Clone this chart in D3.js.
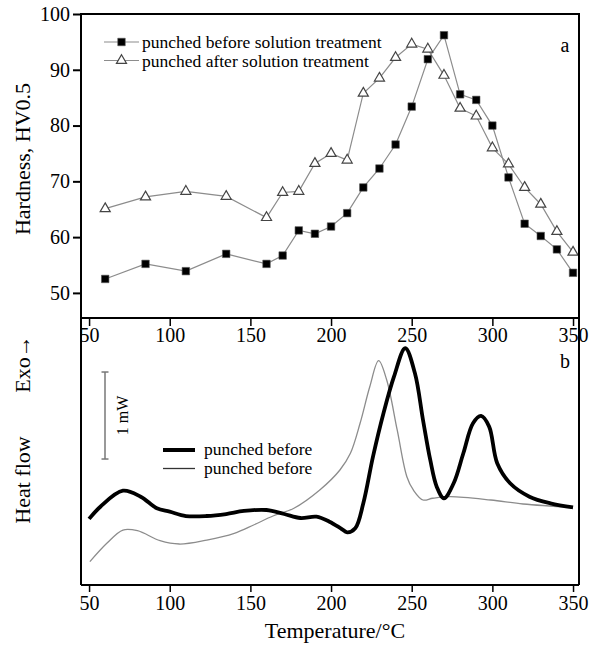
<!DOCTYPE html>
<html>
<head>
<meta charset="utf-8">
<script src="https://cdn.jsdelivr.net/npm/d3@7"></script>
<style>
body { margin: 0; background: #fff; }
svg text { font-family: "Liberation Serif", "Times New Roman", serif; fill: #000; }
</style>
</head>
<body>
<div id="chart"></div>
<script>
// panel a: hardness
var tempA = [60, 85, 110, 135, 160, 170, 180, 190, 200, 210, 220, 230, 240, 250, 260, 270, 280, 290, 300, 310, 320, 330, 340, 350];
var hvBefore = [52.5, 55.2, 53.9, 57.0, 55.2, 56.7, 61.2, 60.6, 61.9, 64.3, 68.9, 72.3, 76.6, 83.4, 91.9, 96.2, 85.6, 84.6, 80.0, 70.7, 62.4, 60.2, 57.8, 53.6];
var hvAfter = [65.1, 67.2, 68.2, 67.3, 63.5, 68.0, 68.2, 73.2, 75.0, 73.8, 85.8, 88.5, 92.2, 94.6, 93.7, 89.0, 83.1, 81.7, 76.0, 73.1, 68.9, 65.9, 61.0, 57.3];
var hvTicks = [50, 60, 70, 80, 90, 100];
var tempTicks = [50, 100, 150, 200, 250, 300, 350];
var legendA = ["punched before solution treatment", "punched after solution treatment"];

// panel b: DSC heat flow (mW, arbitrary offset)
var tempThick = [50, 57, 71, 82, 92, 100, 110, 123, 135, 146, 160, 171, 181, 191, 199, 206, 210, 215, 220, 226, 232.5, 239, 246, 252, 257, 261.5, 265.5, 270, 276, 282, 288, 293, 298, 303, 311, 323, 336, 350];
var flowThick = [0.76, 0.90, 1.084, 1.015, 0.882, 0.843, 0.793, 0.793, 0.816, 0.851, 0.862, 0.816, 0.770, 0.785, 0.728, 0.652, 0.606, 0.652, 0.939, 1.475, 1.974, 2.394, 2.721, 2.433, 1.897, 1.437, 1.130, 0.997, 1.169, 1.514, 1.859, 1.943, 1.820, 1.399, 1.169, 1.015, 0.939, 0.893];
var tempThin = [50.5, 61, 71, 80, 94, 106, 123, 140, 152, 164, 177, 193, 205.5, 212, 218, 224, 229.5, 234.5, 241, 247, 251, 257, 263, 274, 299, 319, 350];
var flowThin = [0.268, 0.479, 0.632, 0.624, 0.509, 0.471, 0.517, 0.594, 0.690, 0.793, 0.882, 1.092, 1.322, 1.514, 1.859, 2.279, 2.578, 2.356, 1.782, 1.245, 1.092, 0.977, 0.997, 1.015, 0.977, 0.931, 0.893];
var legendB = ["punched before", "punched before"];

var W = 590, H = 645;
var left = 81, right = 579;
var topA = 14, botA = 318, botB = 585;
var serif = "Liberation Serif, Times New Roman, serif";

var svg = d3.select("#chart").append("svg")
	.attr("width", W)
	.attr("height", H);

var x = d3.scaleLinear().domain([45, 353.7]).range([left, right]);
var yA = d3.scaleLinear().domain([45.5, 100]).range([botA, topA]);
var yB = d3.scaleLinear().domain([0, (botB - botA) / 87]).range([botB, botA]);

function styleAxis(g, w) {
	g.attr("font-family", serif).attr("font-size", 20);
	g.select(".domain").remove();
	g.selectAll("line").attr("stroke", "#000").attr("stroke-width", w);
	g.selectAll("text").attr("fill", "#000").style("font-family", serif).style("font-size", "20px");
}

// ---- panel a ----
var gA = svg.append("g");

gA.append("g")
	.attr("transform", "translate(" + left + ",0)")
	.call(d3.axisLeft(yA).tickValues(hvTicks).tickSize(8).tickPadding(3))
	.call(styleAxis, 2);

gA.append("g")
	.attr("transform", "translate(0," + botA + ")")
	.call(d3.axisBottom(x).tickValues(tempTicks).tickSize(8).tickPadding(2))
	.call(styleAxis, 1.5);

var lineA = d3.line()
	.x(function(d) { return x(d[0]); })
	.y(function(d) { return yA(d[1]); });

var dBefore = tempA.map(function(t, i) { return [t, hvBefore[i]]; });
var dAfter = tempA.map(function(t, i) { return [t, hvAfter[i]]; });

gA.append("path").datum(dAfter)
	.attr("fill", "none").attr("stroke", "#8c8c8c").attr("stroke-width", 1.2)
	.attr("d", lineA);
gA.append("path").datum(dBefore)
	.attr("fill", "none").attr("stroke", "#8c8c8c").attr("stroke-width", 1.2)
	.attr("d", lineA);

var tri = d3.symbol().type(d3.symbolTriangle).size(44);
var sq = d3.symbol().type(d3.symbolSquare).size(56);

gA.selectAll(".tri")
	.data(dAfter)
	.enter().append("path")
	.attr("class", "tri")
	.attr("transform", function(d) { return "translate(" + x(d[0]) + "," + yA(d[1]) + ")"; })
	.attr("d", tri)
	.attr("fill", "#fff").attr("stroke", "#444").attr("stroke-width", 1.2);

gA.selectAll(".sq")
	.data(dBefore)
	.enter().append("path")
	.attr("class", "sq")
	.attr("transform", function(d) { return "translate(" + x(d[0]) + "," + yA(d[1]) + ")"; })
	.attr("d", sq)
	.attr("fill", "#000").attr("stroke", "#555").attr("stroke-width", 0.6);

// legend a
var legA = gA.append("g");
legendA.forEach(function(name, i) {
	var yy = 42 + i * 18.5;
	legA.append("line")
		.attr("x1", 104).attr("x2", 139).attr("y1", yy).attr("y2", yy)
		.attr("stroke", "#8c8c8c").attr("stroke-width", 1.2);
	legA.append("path")
		.attr("transform", "translate(121.5," + yy + ")")
		.attr("d", i === 0 ? sq : tri)
		.attr("fill", i === 0 ? "#000" : "#fff")
		.attr("stroke", i === 0 ? "#555" : "#444")
		.attr("stroke-width", i === 0 ? 0.6 : 1.2);
	legA.append("text")
		.attr("x", 142).attr("y", yy + 6)
		.style("font-size", "17.5px")
		.text(name);
});

gA.append("text")
	.attr("x", 565).attr("y", 52)
	.attr("text-anchor", "middle")
	.style("font-size", "20px")
	.text("a");

gA.append("text")
	.attr("transform", "translate(30,159) rotate(-90)")
	.attr("text-anchor", "middle")
	.style("font-size", "22px")
	.text("Hardness, HV0.5");

// ---- panel b ----
var gB = svg.append("g");

gB.append("g")
	.attr("transform", "translate(0," + botB + ")")
	.call(d3.axisBottom(x).tickValues(tempTicks).tickSize(7).tickPadding(4))
	.call(styleAxis, 1.5);

var lineB = d3.line()
	.curve(d3.curveCatmullRom.alpha(0.5))
	.x(function(d) { return x(d[0]); })
	.y(function(d) { return yB(d[1]); });

var dThin = tempThin.map(function(t, i) { return [t, flowThin[i]]; });
var dThick = tempThick.map(function(t, i) { return [t, flowThick[i]]; });

gB.append("path").datum(dThin)
	.attr("fill", "none").attr("stroke", "#8c8c8c").attr("stroke-width", 1.3)
	.attr("d", lineB);
gB.append("path").datum(dThick)
	.attr("fill", "none").attr("stroke", "#000").attr("stroke-width", 3.8)
	.attr("stroke-linejoin", "round")
	.attr("d", lineB);

// 1 mW scale bar
var barX = 105;
var barBottom = 1.448;
var bar = gB.append("g").attr("stroke", "#777").attr("stroke-width", 1.5);
bar.append("line")
	.attr("x1", barX).attr("x2", barX)
	.attr("y1", yB(barBottom)).attr("y2", yB(barBottom + 1));
bar.append("line")
	.attr("x1", barX - 3.5).attr("x2", barX + 3.5)
	.attr("y1", yB(barBottom)).attr("y2", yB(barBottom));
bar.append("line")
	.attr("x1", barX - 3.5).attr("x2", barX + 3.5)
	.attr("y1", yB(barBottom + 1)).attr("y2", yB(barBottom + 1));
gB.append("text")
	.attr("transform", "translate(128," + yB(barBottom + 0.5) + ") rotate(-90)")
	.attr("text-anchor", "middle")
	.style("font-size", "16px")
	.text("1 mW");

// legend b
legendB.forEach(function(name, i) {
	var yy = 450 + i * 18.5;
	gB.append("line")
		.attr("x1", 163).attr("x2", 195).attr("y1", yy).attr("y2", yy)
		.attr("stroke", i === 0 ? "#000" : "#333")
		.attr("stroke-width", i === 0 ? 4 : 1.3);
	gB.append("text")
		.attr("x", 204).attr("y", yy + 5)
		.style("font-size", "17.5px")
		.text(name);
});

gB.append("text")
	.attr("x", 565).attr("y", 368)
	.attr("text-anchor", "middle")
	.style("font-size", "20px")
	.text("b");

gB.append("text")
	.attr("transform", "translate(30,364) rotate(-90)")
	.attr("text-anchor", "middle")
	.style("font-size", "22px")
	.text("Exo\u2192");

gB.append("text")
	.attr("transform", "translate(30,480) rotate(-90)")
	.attr("text-anchor", "middle")
	.style("font-size", "22px")
	.text("Heat flow");

gB.append("text")
	.attr("x", 335).attr("y", 638)
	.attr("text-anchor", "middle")
	.style("font-size", "22px")
	.text("Temperature/\u00b0C");

// frames
svg.append("path")
	.attr("d", "M" + left + "," + botB + "V" + topA + "H" + right + "V" + botB)
	.attr("fill", "none").attr("stroke", "#000").attr("stroke-width", 2);
svg.append("line")
	.attr("x1", left).attr("x2", right).attr("y1", botA).attr("y2", botA)
	.attr("stroke", "#000").attr("stroke-width", 2);
svg.append("line")
	.attr("x1", left).attr("x2", right).attr("y1", botB).attr("y2", botB)
	.attr("stroke", "#000").attr("stroke-width", 2);
</script>
</body>
</html>
